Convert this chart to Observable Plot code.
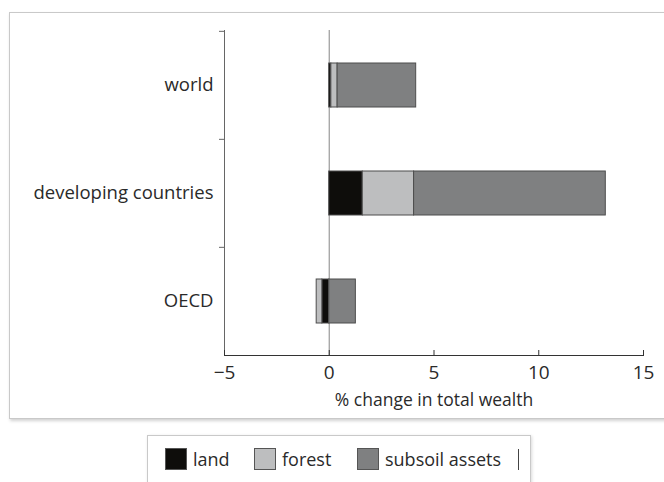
<!DOCTYPE html>
<html>
<head>
<meta charset="utf-8">
<script src="https://cdn.jsdelivr.net/npm/d3@7"></script>
<script src="https://cdn.jsdelivr.net/npm/@observablehq/plot@0.6"></script>
<style>
  html, body { margin: 0; padding: 0; background: #fff; }
  body { width: 664px; height: 482px; position: relative; overflow: hidden; font-family: "Open Sans", sans-serif; }
  #frame { position: absolute; left: 9px; top: 12px; width: 720px; height: 405px; border: 1px solid #c9c9c9; box-shadow: 1px 2px 3px rgba(0,0,0,0.18); }
  #chart { position: absolute; left: 0; top: 0; }
  #legend { position: absolute; left: 147px; top: 435px; width: 382px; height: 60px; border: 1px solid #c9c9c9; box-shadow: 1px 1px 3px rgba(0,0,0,0.15); background: #fff; }
  .item { position: absolute; top: 12px; display: flex; align-items: center; font-size: 18px; line-height: 22px; color: #2a2a2a; }
  .sw { width: 22px; height: 22px; border: 1px solid #555; margin-right: 6px; box-sizing: border-box; }
  #bar { position: absolute; left: 370px; top: 13px; width: 1px; height: 21px; background: #444; }
</style>
</head>
<body>
<div id="frame"></div>
<div id="chart"></div>
<div id="legend"></div>
<script>
const regions = ["world", "developing countries", "OECD"];
const components = ["land", "forest", "subsoil assets"];
const land = [0.1, 1.6, -0.33];
const forest = [0.3, 2.45, -0.27];
const subsoil = [3.75, 9.15, 1.27];
const xTicks = [-5, 0, 5, 10, 15];
const xTitle = "% change in total wealth";
const colors = ["#0e0d0b", "#bdbebf", "#7f8081"];

const series = [land, forest, subsoil];
const rows = [];
components.forEach((c, i) => regions.forEach((r, j) => rows.push({region: r, component: c, value: series[i][j]})));

const H = 420, mt = 30, mb = 65;
const step = (H - mt - mb) / regions.length;

const chart = Plot.plot({
  width: 664,
  height: H,
  marginLeft: 224,
  marginRight: 21,
  marginTop: mt,
  marginBottom: mb,
  style: {fontFamily: "Open Sans, sans-serif", fontSize: "16px", color: "#2a2a2a", background: "transparent"},
  x: {domain: [-5, 15], ticks: xTicks, label: null},
  y: {domain: regions, paddingInner: 0, paddingOuter: 0, label: null},
  color: {domain: components, range: colors},
  marks: [
    Plot.ruleX([0], {stroke: "#9a9a9a", strokeWidth: 1.2}),
    Plot.barX(rows, Plot.stackX({x: "value", y: "region", fill: "component", stroke: "#4d4d4d", strokeWidth: 1, insetTop: 32, insetBottom: 32})),
    Plot.frame({anchor: "left", stroke: "#666"}),
    Plot.frame({anchor: "bottom", stroke: "#333"}),
    Plot.axisY({tickSize: 0, tickPadding: 11, label: null, fontSize: 18.5}),
    Plot.axisY({text: null, tickSize: 5, dy: -step / 2, stroke: "#666", label: null}),
    Plot.axisX({ticks: xTicks, text: null, tickSize: 5, dy: -5, stroke: "#333", label: null}),
    Plot.axisX({ticks: xTicks, tickSize: 0, tickPadding: 10, fontSize: 19, label: null}),
    Plot.text([xTitle], {text: d => d, frameAnchor: "bottom", dy: 50, fontSize: 17.5})
  ]
});
document.getElementById("chart").appendChild(chart);

const legend = document.getElementById("legend");
const lx = [17, 106, 209];
components.forEach((c, i) => {
  const it = document.createElement("div");
  it.className = "item";
  it.style.left = lx[i] + "px";
  const sw = document.createElement("div");
  sw.className = "sw";
  sw.style.background = colors[i];
  it.appendChild(sw);
  it.appendChild(document.createTextNode(c));
  legend.appendChild(it);
});
const b = document.createElement("div");
b.id = "bar";
legend.appendChild(b);
</script>
</body>
</html>
